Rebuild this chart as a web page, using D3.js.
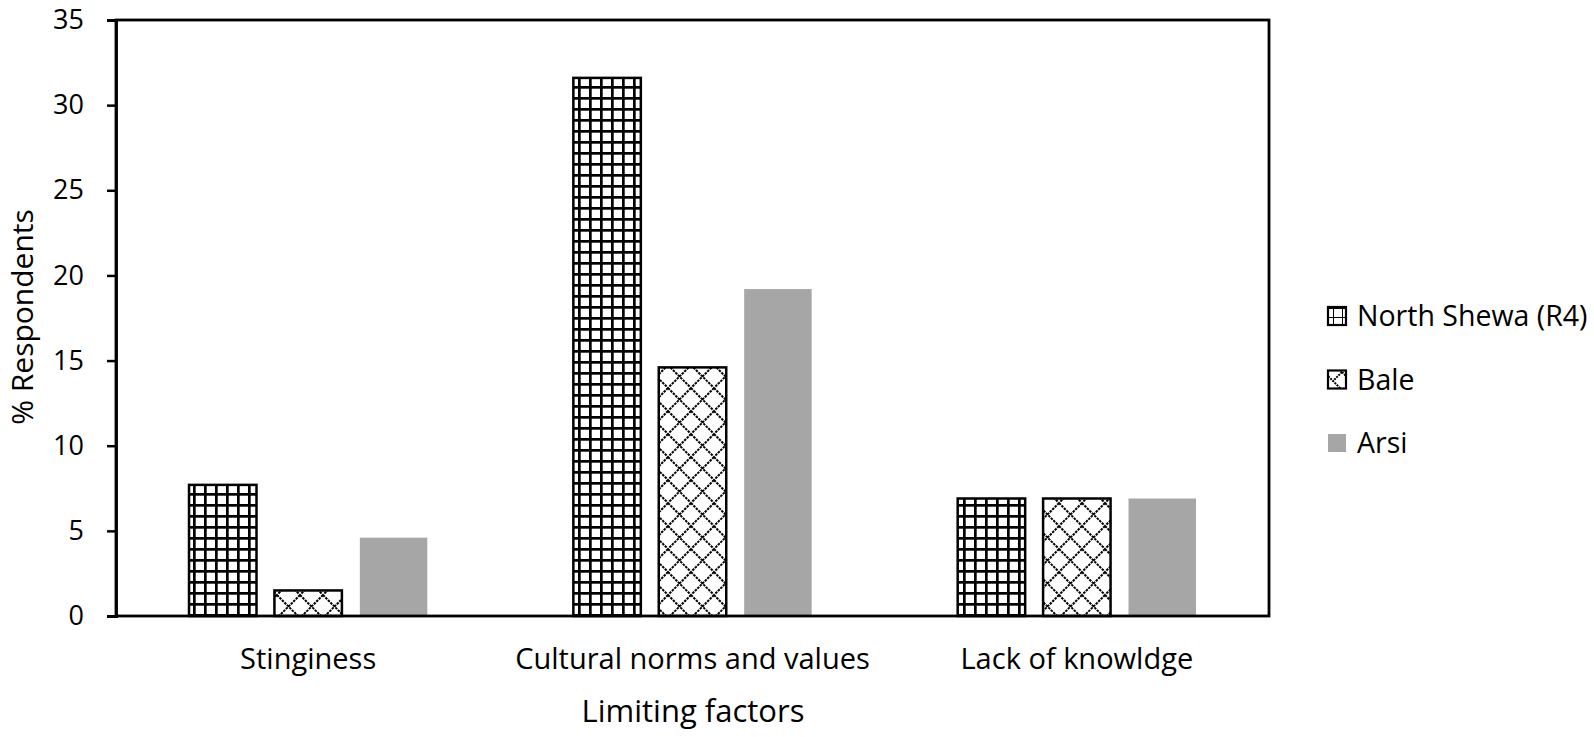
<!DOCTYPE html>
<html>
<head>
<meta charset="utf-8">
<script src="https://cdn.jsdelivr.net/npm/d3@7"></script>
<style>
  body { margin: 0; background: #fff; }
  text { font-family: "Open Sans", sans-serif; fill: #000; }
</style>
</head>
<body>
<div id="chart-area"></div>
<script>
// data
var categories = ["Stinginess", "Cultural norms and values", "Lack of knowldge"];
var seriesNames = ["North Shewa (R4)", "Bale", "Arsi"];
var northShewa = [7.7, 31.6, 6.9];
var bale = [1.5, 14.6, 6.9];
var arsi = [4.6, 19.2, 6.9];
var yTicks = [0, 5, 10, 15, 20, 25, 30, 35];

var seriesValues = [northShewa, bale, arsi];

var margin = { left: 116, top: 20, right: 325, bottom: 121 };
var width = 1594, height = 737;
var plotW = width - margin.left - margin.right;
var plotH = height - margin.top - margin.bottom;

var svg = d3.select("#chart-area").append("svg")
    .attr("width", width)
    .attr("height", height);

// patterns
var defs = svg.append("defs");
var grid = defs.append("pattern")
    .attr("id", "grid")
    .attr("patternUnits", "userSpaceOnUse")
    .attr("width", 11).attr("height", 11);
grid.append("rect").attr("width", 11).attr("height", 11).attr("fill", "#fff");
grid.append("rect").attr("x", 0).attr("y", 0).attr("width", 2.7).attr("height", 11).attr("fill", "#000");
grid.append("rect").attr("x", 0).attr("y", 0).attr("width", 11).attr("height", 2.7).attr("fill", "#000");

var diamond = defs.append("pattern")
    .attr("id", "diamond")
    .attr("patternUnits", "userSpaceOnUse")
    .attr("width", 23).attr("height", 23);
diamond.append("rect").attr("width", 23).attr("height", 23).attr("fill", "#fff");
diamond.append("path")
    .attr("d", "M0,0L23,23M23,0L0,23")
    .attr("stroke", "#000")
    .attr("stroke-width", 2)
    .attr("stroke-dasharray", "2.5,1");

var legendX = 1328, legendY = 316, legendStep = 63.5, sw = 18;

var lg = defs.append("pattern")
    .attr("id", "legendgrid")
    .attr("patternUnits", "userSpaceOnUse")
    .attr("x", legendX).attr("y", legendY - sw / 2)
    .attr("width", 9).attr("height", 9);
lg.append("rect").attr("width", 9).attr("height", 9).attr("fill", "#fff");
lg.append("rect").attr("x", -1).attr("width", 2).attr("height", 9).attr("fill", "#000");
lg.append("rect").attr("y", -1).attr("width", 9).attr("height", 2).attr("fill", "#000");

var ld = defs.append("pattern")
    .attr("id", "legenddiamond")
    .attr("patternUnits", "userSpaceOnUse")
    .attr("x", legendX).attr("y", legendY + legendStep - sw / 2)
    .attr("width", 18).attr("height", 18);
ld.append("rect").attr("width", 18).attr("height", 18).attr("fill", "#fff");
ld.append("path")
    .attr("d", "M0,0L18,18M18,0L9,9")
    .attr("stroke", "#000")
    .attr("stroke-width", 2)
    .attr("stroke-dasharray", "2,1");

var fills = ["url(#grid)", "url(#diamond)", "#a6a6a6"];
var legendFills = ["url(#legendgrid)", "url(#legenddiamond)", "#a6a6a6"];
var strokes = ["#000", "#000", "none"];

var g = svg.append("g")
    .attr("transform", "translate(" + margin.left + "," + margin.top + ")");

var x0 = d3.scaleBand()
    .domain(categories)
    .range([0, plotW])
    .paddingInner(0.38)
    .paddingOuter(0.19);

var x1 = d3.scaleBand()
    .domain(seriesNames)
    .range([0, x0.bandwidth()])
    .paddingInner(0.21);

var y = d3.scaleLinear()
    .domain([0, 35])
    .range([plotH, 0]);

// bars
seriesNames.forEach(function(s, si) {
    g.selectAll(".bar-" + si)
        .data(seriesValues[si])
        .enter()
        .append("rect")
        .attr("class", "bar-" + si)
        .attr("x", function(d, i) { return x0(categories[i]) + x1(s); })
        .attr("y", function(d) { return y(d); })
        .attr("width", x1.bandwidth())
        .attr("height", function(d) { return plotH - y(d); })
        .attr("fill", fills[si])
        .attr("stroke", strokes[si])
        .attr("stroke-width", 2.5);
});

// frame
g.append("rect")
    .attr("x", 0).attr("y", 0)
    .attr("width", plotW).attr("height", plotH)
    .attr("fill", "none")
    .attr("stroke", "#000")
    .attr("stroke-width", 2.8);

// y axis
var leftAxis = d3.axisLeft(y).tickValues(yTicks).tickSize(9).tickPadding(23);
var ya = g.append("g").attr("class", "left axis").call(leftAxis);
ya.select(".domain").attr("stroke-width", 2.8);
ya.selectAll(".tick line").attr("stroke-width", 2.5);
ya.selectAll("text")
    .attr("font-size", "27px")
    .style("font-family", "'Open Sans', sans-serif");

// x category labels
g.selectAll(".cat-label")
    .data(categories)
    .enter()
    .append("text")
    .attr("class", "cat-label")
    .attr("x", function(d) { return x0(d) + x0.bandwidth() / 2; })
    .attr("y", plotH + 53)
    .attr("text-anchor", "middle")
    .attr("font-size", "29px")
    .text(function(d) { return d; });

// axis titles
g.append("text")
    .attr("x", 693 - margin.left)
    .attr("y", plotH + 106)
    .attr("text-anchor", "middle")
    .attr("font-size", "31px")
    .text("Limiting factors");

g.append("text")
    .attr("transform", "rotate(-90)")
    .attr("x", -(317 - margin.top))
    .attr("y", -margin.left + 33)
    .attr("text-anchor", "middle")
    .attr("font-size", "30px")
    .text("% Respondents");

// legend
var legend = svg.append("g").attr("transform", "translate(" + legendX + "," + legendY + ")");
seriesNames.forEach(function(s, si) {
    var row = legend.append("g").attr("transform", "translate(0," + si * legendStep + ")");
    row.append("rect")
        .attr("x", 0).attr("y", -sw / 2)
        .attr("width", sw).attr("height", sw)
        .attr("fill", legendFills[si])
        .attr("stroke", strokes[si])
        .attr("stroke-width", 2.2);
    row.append("text")
        .attr("x", 29)
        .attr("y", 10)
        .attr("font-size", "28.5px")
        .text(s);
});
</script>
</body>
</html>
